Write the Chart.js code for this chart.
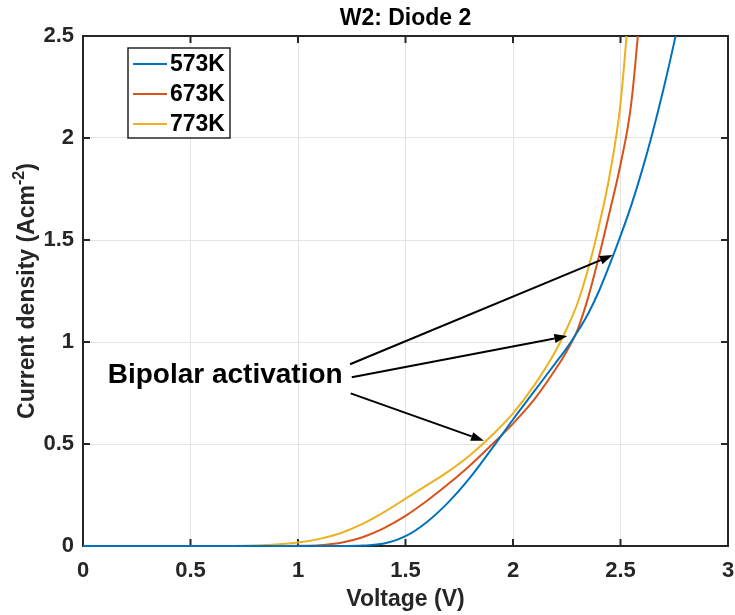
<!DOCTYPE html>
<html>
<head>
<meta charset="utf-8">
<script src="https://cdn.jsdelivr.net/npm/chart.js@4.4.0/dist/chart.umd.min.js"></script>
<style>
  body { margin: 0; background: #fff; }
  #wrap { width: 735px; height: 615px; }
</style>
</head>
<body>
<div id="wrap"><canvas id="ivChart" width="735" height="615"></canvas></div>
<script>
// ---- data ----
const voltage = [0, 0.1, 0.2, 0.3, 0.4, 0.5, 0.6, 0.7, 0.8, 0.9, 1.0, 1.1, 1.2, 1.3, 1.4, 1.5, 1.6, 1.7, 1.8, 1.9, 2.0,
                 2.1, 2.2, 2.25, 2.3, 2.35, 2.4, 2.45, 2.5, 2.55, 2.6, 2.65, 2.7, 2.75, 2.8];
const j573 = [0, 0, 0, 0, 0, 0, 0, 0, 0, 0, 0, 0, 0, 0.002, 0.012, 0.048, 0.118, 0.215, 0.335, 0.475, 0.62,
              0.76, 0.9, 0.97, 1.05, 1.14, 1.25, 1.38, 1.52, 1.67, 1.84, 2.03, 2.24, 2.47, 2.72];
const j673 = [0, 0, 0, 0, 0, 0, 0, 0, 0, 0, 0.001, 0.004, 0.016, 0.043, 0.088, 0.148, 0.222, 0.305, 0.395, 0.495, 0.6,
              0.72, 0.87, 0.955, 1.06, 1.22, 1.42, 1.64, 1.87, 2.17, 2.75, 3.5, 4.4, 5.4, 6.5];
const j773 = [0, 0, 0, 0, 0, 0, 0, 0, 0.002, 0.007, 0.017, 0.035, 0.064, 0.108, 0.166, 0.232, 0.298, 0.366, 0.445, 0.54, 0.65,
              0.79, 0.96, 1.065, 1.19, 1.36, 1.57, 1.82, 2.17, 2.8, 3.6, 4.5, 5.5, 6.6, 7.8];
const seriesLabels = ['573K', '673K', '773K'];
const xTicks = [0, 0.5, 1, 1.5, 2, 2.5, 3];
const yTicks = [0, 0.5, 1, 1.5, 2, 2.5];

// annotation: text anchor and arrows, in data units (V, A/cm^2)
const noteText = 'Bipolar activation';
const noteAt = [0.115, 0.80];
const arrowFrom = [[1.242, 0.891], [1.250, 0.827], [1.245, 0.748]];
const arrowTo = [[2.464, 1.426], [2.253, 1.029], [1.865, 0.516]];

const colors = ['#0072BD', '#D95319', '#EDB120'];
const FONT = '"Liberation Sans", Arial, Helvetica, sans-serif';
const AXIS = '#262626';

const toPoints = arr => voltage.map((v, i) => ({ x: v, y: arr[i] }));

// box + inward tick marks on all four sides
const framePlugin = {
    id: 'frame',
    beforeDatasetsDraw(chart) {
        const { ctx, chartArea: a, scales: { x, y } } = chart;
        ctx.save();
        ctx.strokeStyle = AXIS;
        ctx.lineWidth = 2;
        ctx.strokeRect(a.left, a.top, a.right - a.left, a.bottom - a.top);
        ctx.beginPath();
        xTicks.forEach(v => {
            const px = x.getPixelForValue(v);
            ctx.moveTo(px, a.bottom); ctx.lineTo(px, a.bottom - 7);
            ctx.moveTo(px, a.top); ctx.lineTo(px, a.top + 7);
        });
        yTicks.forEach(v => {
            const py = y.getPixelForValue(v);
            ctx.moveTo(a.left, py); ctx.lineTo(a.left + 7, py);
            ctx.moveTo(a.right, py); ctx.lineTo(a.right - 7, py);
        });
        ctx.stroke();
        ctx.restore();
    }
};

// titles, legend, annotation arrows
const decorPlugin = {
    id: 'decor',
    afterDraw(chart) {
        const { ctx, chartArea: a, scales: { x, y } } = chart;
        ctx.save();
        ctx.fillStyle = '#000';

        // title
        ctx.font = `bold 23px ${FONT}`;
        ctx.textAlign = 'center';
        ctx.textBaseline = 'alphabetic';
        ctx.fillText('W2: Diode 2', (a.left + a.right) / 2, 25);

        // x axis title
        ctx.fillStyle = AXIS;
        ctx.textBaseline = 'middle';
        ctx.fillText('Voltage (V)', (a.left + a.right) / 2, 600);

        // y axis title with superscript
        const main = 'Current density (Acm', sup = '-2', tail = ')';
        ctx.save();
        ctx.translate(28, (a.top + a.bottom) / 2);
        ctx.rotate(-Math.PI / 2);
        ctx.textAlign = 'left';
        ctx.font = `bold 23px ${FONT}`;
        const w1 = ctx.measureText(main).width, w3 = ctx.measureText(tail).width;
        ctx.font = `bold 16px ${FONT}`;
        const w2 = ctx.measureText(sup).width;
        let sx = -(w1 + w2 + w3) / 2;
        ctx.font = `bold 23px ${FONT}`;
        ctx.fillText(main, sx, 0);
        ctx.font = `bold 16px ${FONT}`;
        ctx.fillText(sup, sx + w1, -8);
        ctx.font = `bold 23px ${FONT}`;
        ctx.fillText(tail, sx + w1 + w2, 0);
        ctx.restore();

        // legend box
        const lx = a.left + 45, ly = a.top + 12, lw = 102, lh = 90;
        ctx.fillStyle = '#fff';
        ctx.fillRect(lx, ly, lw, lh);
        ctx.strokeStyle = AXIS;
        ctx.lineWidth = 1.5;
        ctx.strokeRect(lx, ly, lw, lh);
        ctx.font = `bold 23px ${FONT}`;
        ctx.textAlign = 'left';
        ctx.textBaseline = 'middle';
        chart.data.datasets.forEach((ds, i) => {
            const ry = ly + 16 + i * 30;
            ctx.strokeStyle = ds.borderColor;
            ctx.lineWidth = 2;
            ctx.beginPath();
            ctx.moveTo(lx + 5, ry);
            ctx.lineTo(lx + 39, ry);
            ctx.stroke();
            ctx.fillStyle = '#000';
            ctx.fillText(ds.label, lx + 42, ry + 1);
        });

        // annotation text
        ctx.font = `bold 28px ${FONT}`;
        ctx.textBaseline = 'alphabetic';
        ctx.fillStyle = '#000';
        ctx.fillText(noteText, x.getPixelForValue(noteAt[0]), y.getPixelForValue(noteAt[1]));

        // arrows
        ctx.strokeStyle = '#000';
        ctx.lineWidth = 2;
        arrowFrom.forEach((f, i) => {
            const x0 = x.getPixelForValue(f[0]), y0 = y.getPixelForValue(f[1]);
            const x1 = x.getPixelForValue(arrowTo[i][0]), y1 = y.getPixelForValue(arrowTo[i][1]);
            const ang = Math.atan2(y1 - y0, x1 - x0);
            const hl = 13, hw = 4.5;
            const bx = x1 - hl * Math.cos(ang), by = y1 - hl * Math.sin(ang);
            ctx.beginPath();
            ctx.moveTo(x0, y0);
            ctx.lineTo(bx, by);
            ctx.stroke();
            ctx.beginPath();
            ctx.moveTo(x1, y1);
            ctx.lineTo(bx + hw * Math.sin(ang), by - hw * Math.cos(ang));
            ctx.lineTo(bx - hw * Math.sin(ang), by + hw * Math.cos(ang));
            ctx.closePath();
            ctx.fill();
        });
        ctx.restore();
    }
};

new Chart(document.getElementById('ivChart'), {
    type: 'line',
    data: {
        datasets: [j573, j673, j773].map((arr, i) => ({
            label: seriesLabels[i],
            data: toPoints(arr),
            borderColor: colors[i],
            backgroundColor: colors[i],
            borderWidth: 2,
            pointRadius: 0,
            cubicInterpolationMode: 'monotone',
            clip: { left: 2, top: 0, right: 0, bottom: 2 }
        }))
    },
    options: {
        responsive: false,
        animation: false,
        layout: { padding: { left: 0, top: 36, right: 7, bottom: 0 } },
        plugins: { legend: { display: false }, tooltip: { enabled: false } },
        scales: {
            x: {
                type: 'linear',
                min: 0, max: 3,
                afterBuildTicks: s => { s.ticks = xTicks.map(v => ({ value: v })); },
                afterFit: s => { s.height = 69; s.paddingLeft = 0; s.paddingRight = 0; },
                ticks: { color: AXIS, padding: 12, callback: v => String(v), font: { family: FONT, size: 22, weight: 'bold' } },
                grid: { color: '#e3e3e3', lineWidth: 1, drawTicks: false },
                border: { display: false }
            },
            y: {
                type: 'linear',
                min: 0, max: 2.5,
                afterBuildTicks: s => { s.ticks = yTicks.map(v => ({ value: v })); },
                afterFit: s => { s.width = 83; s.paddingTop = 0; s.paddingBottom = 0; },
                ticks: { color: AXIS, padding: 9, callback: v => String(v), font: { family: FONT, size: 22, weight: 'bold' } },
                grid: { color: '#e3e3e3', lineWidth: 1, drawTicks: false },
                border: { display: false }
            }
        }
    },
    plugins: [framePlugin, decorPlugin]
});
</script>
</body>
</html>
